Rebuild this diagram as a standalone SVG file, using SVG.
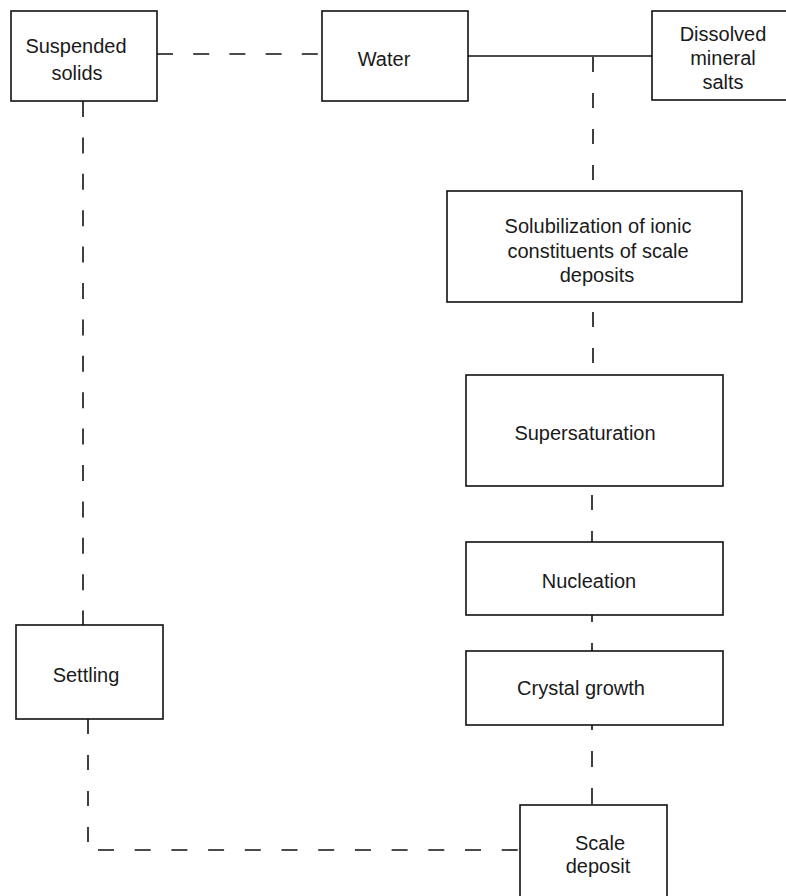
<svg xmlns="http://www.w3.org/2000/svg" width="786" height="896" viewBox="0 0 786 896">
<style>
.box{fill:#fff;stroke:#111;stroke-width:1.6}
.t{font-family:"Liberation Sans",Arial,sans-serif;font-size:20px;fill:#1a1a1a;text-anchor:middle}
.c{fill:none;stroke:#111;stroke-width:1.6}
.d{stroke-dasharray:15 21}
</style>
<rect width="786" height="896" fill="#fff"/>
<g id="connectors">
<path class="c" d="M157 54H322" style="stroke-dasharray:16 20.2"/>
<path class="c" d="M468 56H652"/>
<path class="c d" d="M593 57V190"/>
<path class="c d" d="M593 312V375"/>
<path class="c d" d="M592 495V542"/>
<path class="c d" d="M592 615V651" style="stroke-dashoffset:8"/>
<path class="c" d="M592 725V805" style="stroke-dasharray:16 21;stroke-dashoffset:11"/>
<path class="c" d="M83 101V625" style="stroke-dasharray:16 20.4"/>
<path class="c d" d="M88 719V846"/>
<path class="c" d="M98 850H520" style="stroke-dasharray:16 20.7"/>
</g>
<g id="suspended-solids">
<rect class="box" x="11" y="11" width="146" height="90"/>
<text class="t" x="76" y="53">Suspended</text>
<text class="t" x="77" y="80">solids</text>
</g>
<g id="water">
<rect class="box" x="322" y="11" width="146" height="90"/>
<text class="t" x="384" y="66">Water</text>
</g>
<g id="dissolved-mineral-salts">
<rect class="box" x="652" y="11" width="150" height="89"/>
<text class="t" x="723" y="41">Dissolved</text>
<text class="t" x="723" y="65">mineral</text>
<text class="t" x="723" y="89">salts</text>
</g>
<g id="solubilization">
<rect class="box" x="447" y="191" width="295" height="111"/>
<text class="t" x="598" y="233">Solubilization of ionic</text>
<text class="t" x="598" y="258">constituents of scale</text>
<text class="t" x="597" y="282">deposits</text>
</g>
<g id="supersaturation">
<rect class="box" x="466" y="375" width="257" height="111"/>
<text class="t" x="585" y="440">Supersaturation</text>
</g>
<g id="nucleation">
<rect class="box" x="466" y="542" width="257" height="73"/>
<text class="t" x="589" y="588">Nucleation</text>
</g>
<g id="crystal-growth">
<rect class="box" x="466" y="651" width="257" height="74"/>
<text class="t" x="581" y="695">Crystal growth</text>
</g>
<g id="settling">
<rect class="box" x="16" y="625" width="147" height="94"/>
<text class="t" x="86" y="682">Settling</text>
</g>
<g id="scale-deposit">
<rect class="box" x="520" y="805" width="147" height="100"/>
<text class="t" x="600" y="850">Scale</text>
<text class="t" x="598" y="873">deposit</text>
</g>
</svg>
